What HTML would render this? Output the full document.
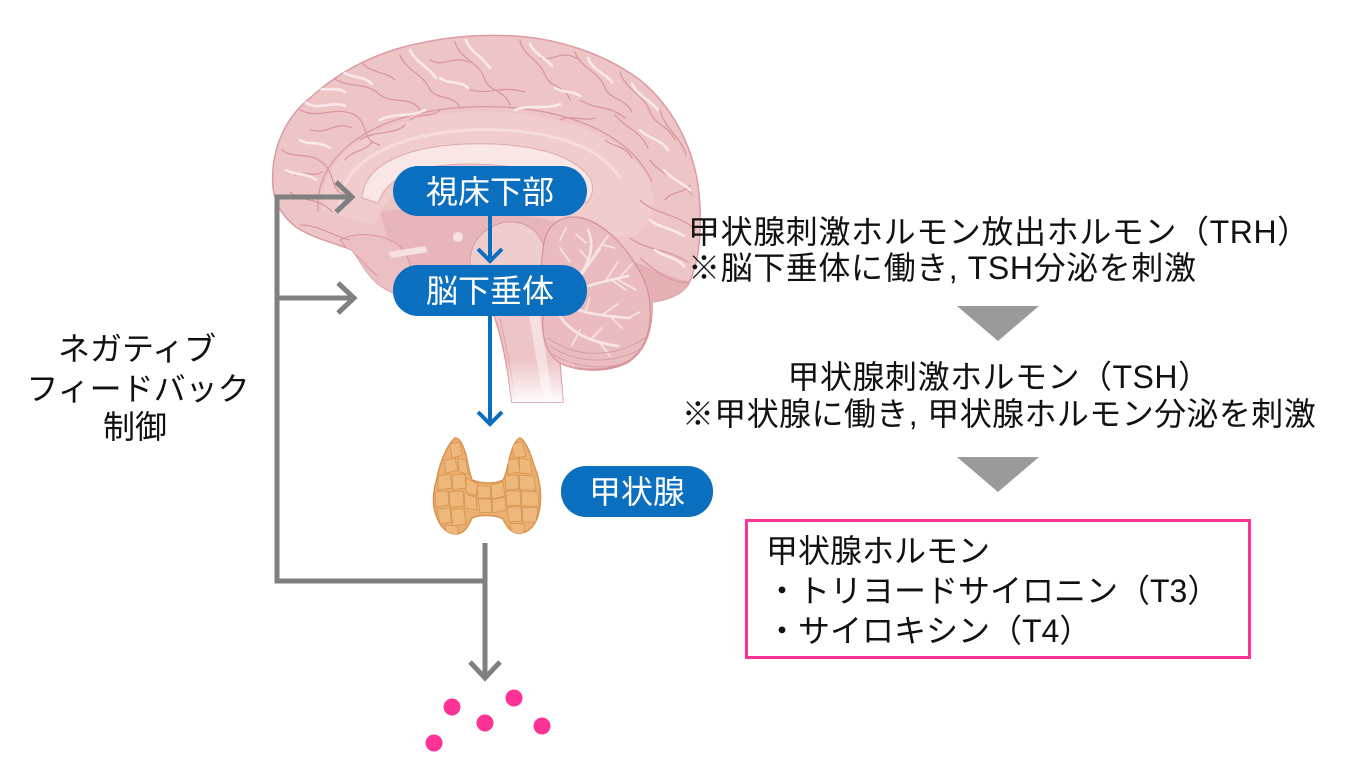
<!DOCTYPE html>
<html>
<head>
<meta charset="utf-8">
<style>
html,body{margin:0;padding:0;background:#fff;}
svg{display:block;}
text{font-family:"Liberation Sans","Noto Sans CJK JP",sans-serif;}
</style>
</head>
<body>
<svg width="1360" height="780" viewBox="0 0 1360 780" xmlns="http://www.w3.org/2000/svg">
<defs>
  <linearGradient id="fade" x1="0" y1="0" x2="0" y2="1">
    <stop offset="0" stop-color="#fff" stop-opacity="0"/>
    <stop offset="1" stop-color="#fff" stop-opacity="1"/>
  </linearGradient>
  <clipPath id="brainClip">
    <path d="M273,188 C270,150 285,118 310,98 C335,75 365,58 400,48 C440,37 480,34 515,36 C560,39 605,54 640,80 C672,106 692,145 698,185 C703,225 700,262 688,285 C680,296 666,300 652,302 C653,332 645,352 627,363 C607,373 578,372 560,363 L563,402 L512,402 C508,372 503,340 494,316 C480,305 460,302 440,302 C412,302 392,294 378,284 C366,274 360,260 352,250 C335,243 312,238 296,227 C283,217 275,204 273,188 Z"/>
  </clipPath>
  <clipPath id="thyClip">
    <path d="M455,438 C447,445 440,462 437,478 C433,492 432,505 436,515 C440,527 447,534 456,534 C464,534 468,527 472,518 C478,515 495,514 503,519 C507,528 513,535 522,533 C532,531 539,520 540,505 C542,490 538,475 534,465 C530,452 525,440 520,438 C515,440 511,450 508,465 C506,472 505,478 503,480 C495,484 482,484 472,480 C470,475 468,465 466,455 C463,445 460,438 455,438 Z"/>
  </clipPath>
  <clipPath id="cereClip">
    <path d="M545,238 C550,222 565,214 582,218 C608,225 632,252 646,285 C655,315 650,346 630,360 C610,372 578,372 558,362 C546,352 541,335 543,315 C540,290 540,262 545,238 Z"/>
  </clipPath>
</defs>

<!-- ===== BRAIN ===== -->
<path d="M273,188 C270,150 285,118 310,98 C335,75 365,58 400,48 C440,37 480,34 515,36 C560,39 605,54 640,80 C672,106 692,145 698,185 C703,225 700,262 688,285 C680,296 666,300 652,302 C653,332 645,352 627,363 C607,373 578,372 560,363 L563,402 L512,402 C508,372 503,340 494,316 C480,305 460,302 440,302 C412,302 392,294 378,284 C366,274 360,260 352,250 C335,243 312,238 296,227 C283,217 275,204 273,188 Z" fill="#eec5c7" stroke="#dc9ba1" stroke-width="1.5"/>

<g clip-path="url(#brainClip)">
  <!-- inner limbic region (subtle) -->
  <path d="M322,210 C318,160 370,118 465,112 C555,108 625,135 648,180 C660,205 650,228 630,238 L560,230 C545,190 510,172 468,172 C420,172 385,190 375,225 Z" fill="#f0cccd"/>
  <path d="M318,212 C314,155 372,112 468,107 C560,103 630,132 652,182" fill="none" stroke="#d9979d" stroke-width="1.3"/>
  <path d="M340,205 C340,165 390,135 468,130 C545,127 600,145 620,178" fill="none" stroke="#f6dcdd" stroke-width="3"/>
  <!-- callosum -->
  <path d="M362,198 C364,166 402,147 465,144 C530,142 573,154 590,178 C595,188 592,198 586,203 C578,185 545,165 470,164 C415,164 386,179 378,203 Z" fill="#f9e7e7" stroke="#dfa9ad" stroke-width="1"/>
  <!-- region below callosum -->
  <path d="M380,212 C400,208 440,206 470,210 C520,213 560,220 580,230 L575,270 L395,270 Z" fill="#e8b6ba"/>
  <!-- temporal lobe area -->
  <path d="M340,240 C355,232 380,232 398,245 C410,255 415,275 410,300 L378,290 C365,275 355,258 340,240 Z" fill="#ecbfc2" stroke="#d9979d" stroke-width="1"/>
  <path d="M352,252 C362,258 368,270 378,276" fill="none" stroke="#d9979d" stroke-width="1"/>
  <path d="M388,252 L425,246 L428,252 L392,258 Z" fill="#f6e0e1"/>
  <circle cx="458" cy="237" r="5" fill="#f6e0e1"/>
  <!-- brainstem / pons dome -->
  <path d="M470,270 C468,245 480,228 505,222 C525,220 540,230 545,250 L548,270 Z" fill="#efcccd" stroke="#d9a0a5" stroke-width="1.2"/>
  <path d="M527,300 C532,335 538,370 545,405 L554,405 C548,370 542,335 538,300 Z" fill="#f6dfe0"/>
  <path d="M500,318 C506,345 512,375 515,402" fill="none" stroke="#dca2a7" stroke-width="1"/>
  <!-- occipital underside darker -->
  <path d="M615,255 C640,262 668,278 692,282 L690,300 L645,310 Z" fill="#e5b0b4"/>
  <!-- cerebellum -->
  <path d="M545,238 C550,222 565,214 582,218 C608,225 632,252 646,285 C655,315 650,346 630,360 C610,372 578,372 558,362 C546,352 541,335 543,315 C540,290 540,262 545,238 Z" fill="#ebbcbf" stroke="#d48f96" stroke-width="1.2"/>
  <g clip-path="url(#cereClip)">
    <g fill="none" stroke="#f8e6e7" stroke-width="2.6" stroke-linecap="round">
      <path d="M555,312 C570,290 585,270 600,248"/>
      <path d="M570,292 C585,286 605,281 628,276"/>
      <path d="M580,276 C590,260 595,245 588,230"/>
      <path d="M562,302 C575,312 600,316 630,318"/>
      <path d="M560,316 C570,332 590,342 618,346"/>
    </g>
    <g fill="none" stroke="#f8e6e7" stroke-width="1.6" stroke-linecap="round">
      <path d="M596,252 L608,236"/><path d="M590,262 L580,250"/>
      <path d="M606,280 L618,262"/><path d="M612,280 L626,290"/>
      <path d="M602,315 L618,304"/><path d="M610,316 L622,328"/>
      <path d="M590,340 L602,328"/><path d="M600,343 L610,356"/>
      <path d="M615,278 L636,290"/><path d="M620,277 L632,264"/>
      <path d="M570,262 L560,248"/><path d="M586,243 L576,234"/>
      <path d="M560,240 L566,228"/><path d="M603,245 L615,248"/>
      <path d="M580,330 L572,345"/><path d="M628,318 L640,312"/>
      <path d="M574,296 L566,284"/><path d="M586,310 L590,298"/>
    </g>
    <g fill="none" stroke="#d69aa0" stroke-width="0.9">
      <path d="M548,338 C578,360 620,358 650,334"/>
      <path d="M550,346 C580,366 620,364 648,344"/>
      <path d="M552,354 C582,372 620,370 646,354"/>
      <path d="M556,362 C585,378 615,376 640,364"/>
    </g>
  </g>
  <path d="M640,258 C660,275 675,285 692,282" fill="none" stroke="#d6959b" stroke-width="1.2"/>
  <!-- gyri creases -->
  <g fill="none" stroke="#d9979d" stroke-width="1.3" stroke-linecap="round">
    <path d="M300,110 C320,120 335,105 355,115 C370,125 360,140 380,145"/>
    <path d="M330,75 C345,90 365,80 380,95 C395,105 410,95 420,110"/>
    <path d="M400,55 C405,70 425,75 430,90 C438,100 455,95 460,108"/>
    <path d="M455,42 C460,60 480,62 485,80 C490,92 505,90 510,105"/>
    <path d="M520,40 C522,55 540,60 545,75 C550,88 565,85 570,100"/>
    <path d="M575,52 C580,68 600,72 605,88 C610,100 625,98 632,112"/>
    <path d="M620,72 C625,90 645,95 650,112 C655,125 668,125 675,140"/>
    <path d="M660,110 C665,130 680,135 686,155"/>
    <path d="M282,150 C295,160 310,150 325,165 C335,175 330,190 345,195"/>
    <path d="M290,192 C300,202 320,197 332,212"/>
    <path d="M650,160 C660,175 680,178 692,195"/>
    <path d="M640,200 C655,215 675,212 696,230"/>
    <path d="M630,238 C645,250 665,248 688,262"/>
    <path d="M360,60 C370,75 385,70 395,80"/>
    <path d="M310,130 C330,135 335,120 352,128"/>
    <path d="M430,60 C445,68 450,55 470,62"/>
    <path d="M540,58 C555,62 560,48 580,60"/>
    <path d="M615,115 C625,128 640,130 648,148"/>
    <path d="M300,225 C320,225 330,235 350,240"/>
    <path d="M360,140 C375,130 395,135 405,125"/>
    <path d="M470,90 C490,95 500,85 525,92"/>
    <path d="M580,100 C595,110 610,105 625,118"/>
    <path d="M345,160 C352,150 365,152 372,142"/>
    <path d="M410,120 C420,112 432,118 440,110"/>
    <path d="M560,120 C572,114 582,122 595,118"/>
    <path d="M605,140 C615,148 625,145 632,158"/>
    <path d="M665,200 C672,190 682,195 690,185"/>
    <path d="M295,175 C305,170 312,178 322,172"/>
  </g>
  <!-- highlights -->
  <g fill="none" stroke="#fbe9e9" stroke-width="2.6" stroke-linecap="round">
    <path d="M305,102 C318,112 330,100 345,106"/>
    <path d="M338,68 C350,80 362,74 372,84"/>
    <path d="M410,50 C415,62 428,66 436,78"/>
    <path d="M466,40 C470,52 482,56 490,68"/>
    <path d="M530,44 C534,54 546,58 552,66"/>
    <path d="M588,58 C592,70 606,74 612,82"/>
    <path d="M632,84 C638,96 650,100 658,110"/>
    <path d="M286,170 C296,176 306,172 316,180"/>
    <path d="M664,170 C672,180 682,182 690,190"/>
    <path d="M650,220 C660,228 672,228 684,236"/>
    <path d="M380,120 C395,112 410,118 425,110"/>
    <path d="M515,110 C530,104 545,110 560,104"/>
    <path d="M440,78 C450,85 460,80 468,88"/>
    <path d="M555,88 C565,94 572,90 580,96"/>
    <path d="M300,140 C310,146 318,140 330,148"/>
    <path d="M640,130 C650,140 660,138 668,150"/>
    <path d="M655,250 C665,258 675,256 684,266"/>
    <path d="M318,88 C328,92 335,86 345,92"/>
  </g>
  <!-- brainstem fade -->
  <rect x="485" y="360" width="90" height="45" fill="url(#fade)"/>
</g>

<!-- ===== Gray feedback lines ===== -->
<g stroke="#808080" stroke-width="5" fill="none" stroke-linejoin="miter">
  <path d="M350,197 H277 V581 H485"/>
  <path d="M277,298 H352"/>
  <path d="M336,182 L352,197 L336,212"/>
  <path d="M338,283 L354,298 L338,313"/>
  <path d="M485,543 V677"/>
  <path d="M470,662 L485,678 L500,662"/>
</g>

<!-- ===== Blue arrows ===== -->
<g stroke="#0b6fc0" stroke-width="4" fill="none">
  <path d="M490,216 V259"/>
  <path d="M478,249 L490,261 L502,249"/>
  <path d="M490,316 V422"/>
  <path d="M478,412 L490,424 L502,412"/>
</g>

<!-- ===== Blue pills ===== -->
<rect x="393" y="166" width="194" height="50" rx="25" fill="#0b6fc0"/>
<rect x="393" y="265" width="194" height="51" rx="25" fill="#0b6fc0"/>
<rect x="561" y="466" width="152" height="51" rx="25" fill="#0b6fc0"/>
<text x="490" y="203" font-size="32" fill="#fff" text-anchor="middle">視床下部</text>
<text x="490" y="302" font-size="32" fill="#fff" text-anchor="middle">脳下垂体</text>
<text x="637" y="503" font-size="32" fill="#fff" text-anchor="middle">甲状腺</text>

<!-- ===== Thyroid ===== -->
<path d="M455,438 C447,445 440,462 437,478 C433,492 432,505 436,515 C440,527 447,534 456,534 C464,534 468,527 472,518 C478,515 495,514 503,519 C507,528 513,535 522,533 C532,531 539,520 540,505 C542,490 538,475 534,465 C530,452 525,440 520,438 C515,440 511,450 508,465 C506,472 505,478 503,480 C495,484 482,484 472,480 C470,475 468,465 466,455 C463,445 460,438 455,438 Z" fill="#ebb070" stroke="#d99350" stroke-width="1.5"/>
<g clip-path="url(#thyClip)" fill="#eeb87d" stroke="#d5924d" stroke-width="0.8">
  <path d="M450,444 L460,442 L462,455 L452,458 Z"/>
  <path d="M444,460 L455,458 L458,470 L446,473 Z"/>
  <path d="M458,458 L466,460 L468,474 L459,472 Z"/>
  <path d="M438,476 L450,474 L452,488 L438,490 Z"/>
  <path d="M452,475 L465,474 L466,488 L453,490 Z"/>
  <path d="M466,478 L478,484 L476,496 L466,492 Z"/>
  <path d="M435,492 L448,491 L449,505 L436,507 Z"/>
  <path d="M449,492 L463,491 L464,506 L450,507 Z"/>
  <path d="M464,494 L476,497 L477,510 L465,508 Z"/>
  <path d="M437,509 L450,508 L451,522 L440,524 Z"/>
  <path d="M451,509 L464,509 L466,524 L453,526 Z"/>
  <path d="M477,486 L490,486 L491,498 L478,498 Z"/>
  <path d="M491,485 L503,482 L505,496 L492,499 Z"/>
  <path d="M478,499 L491,499 L492,512 L480,513 Z"/>
  <path d="M492,500 L505,497 L506,510 L493,513 Z"/>
  <path d="M512,444 L522,442 L526,456 L514,458 Z"/>
  <path d="M508,460 L518,459 L520,472 L508,474 Z"/>
  <path d="M519,458 L530,460 L532,474 L520,473 Z"/>
  <path d="M505,476 L518,475 L519,489 L506,490 Z"/>
  <path d="M519,475 L534,476 L536,490 L520,490 Z"/>
  <path d="M506,491 L520,491 L521,505 L507,506 Z"/>
  <path d="M521,491 L538,492 L539,506 L522,506 Z"/>
  <path d="M507,507 L521,507 L522,521 L509,522 Z"/>
  <path d="M522,507 L538,508 L536,522 L523,522 Z"/>
  <path d="M445,525 L458,526 L458,536 L446,536 Z"/>
  <path d="M510,523 L524,524 L524,536 L512,536 Z"/>
</g>

<!-- ===== Pink dots ===== -->
<g fill="#ff3396">
  <circle cx="452" cy="707" r="8.5"/>
  <circle cx="514" cy="698" r="8.5"/>
  <circle cx="485" cy="723" r="8.5"/>
  <circle cx="542" cy="726" r="8.5"/>
  <circle cx="434" cy="743" r="8.5"/>
</g>

<!-- ===== Left label ===== -->
<g font-size="32" fill="#111" text-anchor="middle">
  <text x="137" y="360">ネガティブ</text>
  <text x="138" y="400">フィードバック</text>
  <text x="135" y="438">制御</text>
</g>

<!-- ===== Right text ===== -->
<g font-size="32" fill="#111">
  <text x="688" y="243" letter-spacing="0.6">甲状腺刺激ホルモン放出ホルモン（TRH）</text>
  <text x="688" y="279" letter-spacing="0.6">※脳下垂体に働き, TSH分泌を刺激</text>
  <text x="999" y="388" text-anchor="middle" letter-spacing="0.5">甲状腺刺激ホルモン（TSH）</text>
  <text x="999" y="425" text-anchor="middle" letter-spacing="0.4">※甲状腺に働き, 甲状腺ホルモン分泌を刺激</text>
</g>

<!-- triangles -->
<polygon points="957,306 1039,306 998,341" fill="#9a9a9a"/>
<polygon points="957,457 1039,457 998,492" fill="#9a9a9a"/>

<!-- pink box -->
<rect x="746.5" y="520.5" width="503" height="137" fill="none" stroke="#ff3396" stroke-width="3"/>
<g font-size="32" fill="#111">
  <text x="766" y="562">甲状腺ホルモン</text>
  <text x="766" y="602">・トリヨードサイロニン（T3）</text>
  <text x="766" y="642">・サイロキシン（T4）</text>
</g>
</svg>
</body>
</html>
